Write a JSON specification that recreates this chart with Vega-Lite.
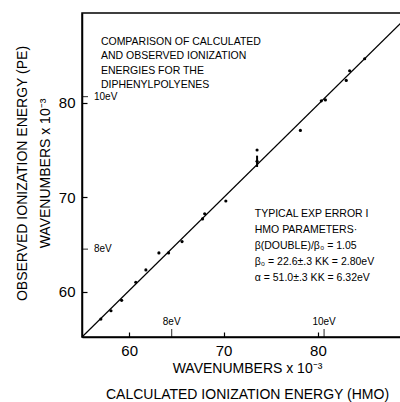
{
  "$schema": "https://vega.github.io/schema/vega-lite/v6.json",
  "autosize": "none",
  "width": 319,
  "height": 324,
  "padding": {"left": 82, "top": 13, "right": 0, "bottom": 65},
  "background": "white",
  "config": {
    "view": {"stroke": "black", "strokeWidth": 1.5},
    "font": "Liberation Sans",
    "axis": {
      "grid": false,
      "domainColor": "black",
      "domainWidth": 1.5,
      "tickColor": "black",
      "tickSize": -5,
      "tickWidth": 1.2,
      "labelColor": "black",
      "labelFont": "Liberation Sans",
      "labelFontSize": 15,
      "titleFont": "Liberation Sans",
      "titleFontSize": 14,
      "titleFontWeight": "normal",
      "titleColor": "black"
    }
  },
  "datasets": {
    "pts": [
      {"calc": 57.0, "obs": 57.1},
      {"calc": 58.07, "obs": 57.98},
      {"calc": 59.2, "obs": 59.08},
      {"calc": 60.7, "obs": 61.0},
      {"calc": 61.77, "obs": 62.3},
      {"calc": 63.15, "obs": 64.1},
      {"calc": 64.17, "obs": 64.1},
      {"calc": 65.6, "obs": 65.3},
      {"calc": 67.77, "obs": 67.7},
      {"calc": 68.0, "obs": 68.25},
      {"calc": 70.24, "obs": 69.6},
      {"calc": 73.55, "obs": 75.0},
      {"calc": 73.55, "obs": 73.8},
      {"calc": 78.14, "obs": 77.07},
      {"calc": 80.36, "obs": 80.2},
      {"calc": 80.79, "obs": 80.3},
      {"calc": 83.0, "obs": 82.36},
      {"calc": 83.36, "obs": 83.39},
      {"calc": 84.95, "obs": 84.66}
    ],
    "diag": [
      {"calc": 55.0, "obs": 55.2},
      {"calc": 88.8, "obs": 88.45}
    ],
    "err": [
      {"calc": 73.55, "lo": 73.2, "hi": 74.4}
    ],
    "evy": [
      {"val": 80.65, "label": "10eV"},
      {"val": 64.5, "label": "8eV"}
    ],
    "evx": [
      {"val": 64.5, "label": "8eV"},
      {"val": 80.65, "label": "10eV"}
    ],
    "notes": [
      {"calc": 57.0, "obs": 87.0, "lh": "a", "text": ["COMPARISON OF CALCULATED", "AND OBSERVED IONIZATION", "ENERGIES FOR THE", "DIPHENYLPOLYENES"]}
    ],
    "legend": [
      {"calc": 73.3, "obs": 68.7, "text": ["TYPICAL EXP ERROR  I", "HMO PARAMETERS·", "β(DOUBLE)/β₀ = 1.05", "β₀ = 22.6±.3 KK = 2.80eV", "α = 51.0±.3 KK = 6.32eV"]}
    ]
  },
  "layer": [
    {
      "data": {"name": "diag"},
      "mark": {"type": "line", "color": "black", "strokeWidth": 1.2},
      "encoding": {
        "x": {
          "field": "calc", "type": "quantitative",
          "scale": {"domain": [55, 88.8], "nice": false, "zero": false},
          "axis": {
            "values": [60, 70, 80],
            "labelPadding": 11,
            "title": ["WAVENUMBERS x 10⁻³", "CALCULATED IONIZATION ENERGY (HMO)"],
            "titleLineHeight": 26,
            "titleBaseline": "middle",
            "titleX": 165,
            "titleY": 31
          }
        },
        "y": {
          "field": "obs", "type": "quantitative",
          "scale": {"domain": [55.2, 89.5], "nice": false, "zero": false},
          "axis": {
            "values": [60, 70, 80],
            "labelPadding": 12,
            "title": ["OBSERVED IONIZATION ENERGY (PE)", "WAVENUMBERS x 10⁻³"],
            "titleLineHeight": 23,
            "titleBaseline": "middle",
            "titleAngle": -90,
            "titleX": -60,
            "titleY": 160
          }
        }
      }
    },
    {
      "data": {"name": "pts"},
      "mark": {"type": "circle", "color": "black", "size": 10, "opacity": 1},
      "encoding": {
        "x": {"field": "calc", "type": "quantitative"},
        "y": {"field": "obs", "type": "quantitative"}
      }
    },
    {
      "data": {"name": "err"},
      "mark": {"type": "rule", "color": "black", "strokeWidth": 2},
      "encoding": {
        "x": {"field": "calc", "type": "quantitative"},
        "y": {"field": "lo", "type": "quantitative"},
        "y2": {"field": "hi"}
      }
    },
    {
      "data": {"name": "evy"},
      "mark": {"type": "tick", "orient": "horizontal", "color": "black", "size": 12, "thickness": 1.2, "clip": true},
      "encoding": {
        "x": {"datum": 55, "type": "quantitative"},
        "y": {"field": "val", "type": "quantitative"}
      }
    },
    {
      "data": {"name": "evy"},
      "mark": {"type": "text", "color": "black", "fontSize": 10, "align": "left", "baseline": "middle", "dx": 12},
      "encoding": {
        "x": {"datum": 55, "type": "quantitative"},
        "y": {"field": "val", "type": "quantitative"},
        "text": {"field": "label"}
      }
    },
    {
      "data": {"name": "evx"},
      "mark": {"type": "tick", "orient": "vertical", "color": "black", "size": 16, "thickness": 1.2, "clip": true},
      "encoding": {
        "x": {"field": "val", "type": "quantitative"},
        "y": {"datum": 55.2, "type": "quantitative"}
      }
    },
    {
      "data": {"name": "evx"},
      "mark": {"type": "text", "color": "black", "fontSize": 10, "align": "center", "baseline": "bottom", "dy": -10},
      "encoding": {
        "x": {"field": "val", "type": "quantitative"},
        "y": {"datum": 55.2, "type": "quantitative"},
        "text": {"field": "label"}
      }
    },
    {
      "data": {"name": "notes"},
      "mark": {"type": "text", "color": "black", "fontSize": 10.5, "align": "left", "baseline": "top", "lineHeight": 14.5},
      "encoding": {
        "x": {"field": "calc", "type": "quantitative"},
        "y": {"field": "obs", "type": "quantitative"},
        "text": {"field": "text"}
      }
    },
    {
      "data": {"name": "legend"},
      "mark": {"type": "text", "color": "black", "fontSize": 10.5, "align": "left", "baseline": "top", "lineHeight": 16},
      "encoding": {
        "x": {"field": "calc", "type": "quantitative"},
        "y": {"field": "obs", "type": "quantitative"},
        "text": {"field": "text"}
      }
    }
  ]
}
